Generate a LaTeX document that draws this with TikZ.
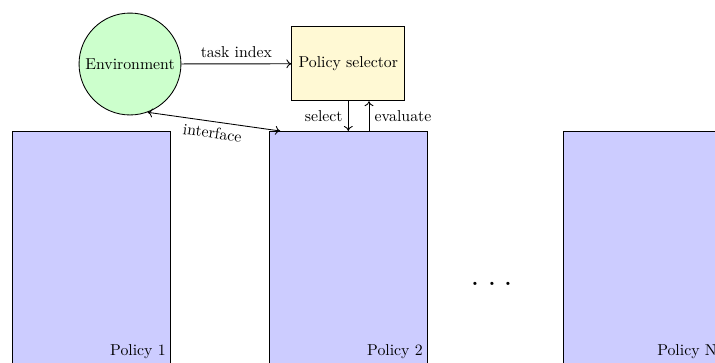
\documentclass[tikz,border=0pt]{standalone}
\usetikzlibrary{calc,arrows.meta}
\definecolor{selfill}{RGB}{255,249,212}
\begin{document}
\begin{tikzpicture}[x=0.6329pt,y=-0.6329pt,
  line width=0.55pt,
  >={To[length=3.2pt,width=5.6pt]},
  conn/.style={->},
  envnode/.style={draw, circle, fill=green!20},
  selnode/.style={draw, fill=selfill, minimum width=71.4pt, minimum height=46.8pt},
  policybox/.style={draw, fill=blue!20, minimum width=100pt, minimum height=190pt, anchor=north west, inner sep=0pt},
  policylabel/.style={anchor=base east, inner sep=0pt}]
\useasboundingbox (0,0) rectangle (715,362);
\clip (0,0) rectangle (715,362);

% environment and selector
\node[envnode] (env) at (130,64) {Environment};
\node[selnode] (sel) at (348.3,63.7) {Policy selector};

% policies
\node[policybox] (p1) at (12.3,131) {};
\node[policybox] (p2) at (269.3,131) {};
\node[policybox] (pN) at (563.3,131) {};
\node[policylabel] (l1) at ($(p1.north east)+(-5,224)$) {Policy 1};
\node[policylabel] (l2) at ($(p2.north east)+(-5,224)$) {Policy 2};
\node[policylabel] (lN) at ($(pN.north east)+(-5,224)$) {Policy N};
\node[anchor=base, inner sep=0pt] (dots) at (492,285) {\Huge .\hspace{4.5pt}.\hspace{4.5pt}.};

% connectors
\draw[conn] (env) -- node[above] {task index} (sel);
\draw[conn] (sel.south) -- node[left] {select} (sel.south |- p2.north);
\coordinate (evb) at ($(sel.south)+(20.7,0)$);
\draw[conn] (evb |- p2.north) -- node[right] {evaluate} (evb);
\coordinate (ifc) at ($(p2.north west)+(11,0)$);
\draw[<->] (env.-70) -- node[below, sloped] {interface} (ifc);
\end{tikzpicture}
\end{document}
